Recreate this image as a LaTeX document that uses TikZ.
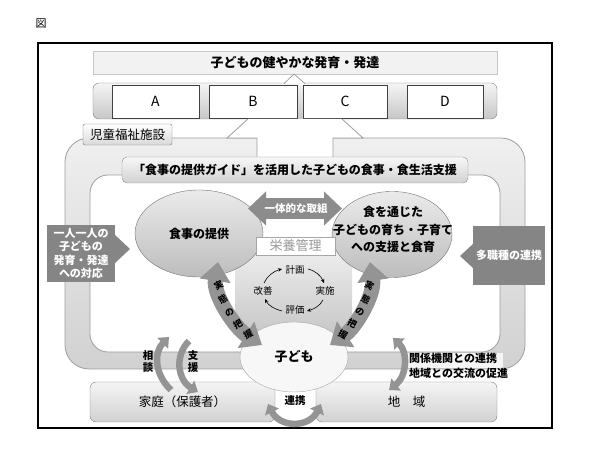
\documentclass[tikz,border=0pt]{standalone}
\usepackage{fontspec}
\setmainfont{Noto Sans CJK JP}
\usetikzlibrary{shapes.geometric,arrows.meta}
\begin{document}
\begin{tikzpicture}[x=1pt,y=-1pt,
  bandstyle/.style={draw=black!38, line width=0.8pt},
  letterbox/.style={draw=black!75, fill=white, line width=0.7pt, minimum height=33pt, inner sep=0pt, font=\fontsize{14}{16}\selectfont},
  darkbox/.style={fill=black!48, text=white, font=\bfseries\fontsize{11}{13.5}\selectfont, align=center, inner sep=0pt},
  softbox/.style={draw=black!50, top color=black!4, bottom color=black!18, rounded corners=6pt, inner sep=0pt, font=\fontsize{12.5}{15}\selectfont},
  cyc/.style={font=\fontsize{9.5}{11}\selectfont, inner sep=1pt},
  cycarrow/.style={line width=0.6pt, -{Stealth[length=4pt,width=3.5pt]}},
  bigarrow/.style={line width=15pt, draw=black!42, {Triangle[width=30pt,length=19pt]}-{Triangle[width=30pt,length=19pt]}},
  midarrow/.style={line width=6.5pt, draw=black!42},
  vtext/.style={font=\bfseries\fontsize{10.5}{12}\selectfont, align=center, inner sep=0pt},
  bendchar/.style={font=\bfseries\fontsize{9}{10}\selectfont, inner sep=0pt}
]
\useasboundingbox (0,0) rectangle (590,462);

\node[font=\fontsize{11}{13}\selectfont, inner sep=0] (fig) at (41,24) {図};
\draw[line width=1.3pt] (38,43) rectangle (552,428);

% top title and ABCD bar
\node[draw=black!22, fill=black!5, minimum width=404pt, minimum height=23pt, inner sep=0, font=\bfseries\fontsize{13}{15}\selectfont] (title) at (295,62.5) {子どもの健やかな発育・発達};
\node[draw=black!50, rounded corners=6pt, top color=black!4, bottom color=black!22, minimum width=404pt, minimum height=36pt, inner sep=0] (bar) at (295,101) {};
\node[letterbox, minimum width=87pt] (A) at (155.5,101.5) {A};
\node[letterbox, minimum width=88pt] (B) at (253,101.5) {B};
\node[letterbox, minimum width=84pt] (C) at (345,101.5) {C};
\node[letterbox, minimum width=76pt] (D) at (445,101.5) {D};
\path[fill=white] (284,83.6) -- (294,74) -- (305,83.6) -- cycle;
\draw[draw=black!45, line width=0.6pt] (284,83.6) -- (294,74) -- (305,83.6);

% band of the facility
\path[bandstyle, top color=black!6, bottom color=black!18, even odd rule]
  [rounded corners=24pt] (65,138) rectangle (525,369)
  [rounded corners=18pt] (90,175) rectangle (500,352);
\path[fill=white] (257,165) -- (257,138) -- (227,138) -- (248,119) -- (342,119) -- (363,138) -- (333,138) -- (333,165) -- cycle;
\draw[bandstyle] (257,165) -- (257,138) -- (227,138) -- (248,119);
\draw[bandstyle] (342,119) -- (363,138) -- (333,138) -- (333,165);
\node[draw=black!55, top color=white, bottom color=black!15, rounded corners=2pt, minimum width=89pt, minimum height=21pt, inner sep=0, font=\fontsize{12.5}{14}\selectfont] (facility) at (127.5,134.5) {児童福祉施設};

\node[draw=black!45, top color=black!3, bottom color=black!18, rounded corners=5pt, minimum width=346pt, minimum height=26pt, inner sep=0, font=\bfseries\fontsize{12}{14}\selectfont] (guide) at (295,170) {「食事の提供ガイド」を活用した子どもの食事・食生活支援};

% nutrition management area
\shade[top color=black!6, bottom color=black!22] (235,245) rectangle (352,335);

% ellipses
\node[ellipse, draw=black!55, top color=black!8, bottom color=black!26, minimum width=128pt, minimum height=87pt, inner sep=0, font=\bfseries\fontsize{12}{14}\selectfont] (meal) at (199,233.5) {食事の提供};
\node[ellipse, draw=black!55, top color=black!8, bottom color=black!26, minimum width=120pt, minimum height=86pt, inner sep=0] (growth) at (392,234.5) {};
\node[align=center, inner sep=0, font=\bfseries\fontsize{12}{17.5}\selectfont] (growthtext) at (393,229.5) {食を通じた\\子どもの育ち・子育て\\への支援と食育};

\node[draw=black!35, fill=white, minimum width=79pt, minimum height=18pt, inner sep=0, text=black!40, font=\fontsize{13}{15}\selectfont] (nutr) at (295.5,246) {栄養管理};
\node[cyc] (plan) at (295,270) {計画};
\node[cyc] (do) at (325,291) {実施};
\node[cyc] (check) at (295,310) {評価};
\node[cyc] (act) at (263,291) {改善};
\draw[cycarrow] (264,283) .. controls (267,276) and (274,271) .. (282,269);
\draw[cycarrow] (308,269) .. controls (316,271) and (321,276) .. (324,283);
\draw[cycarrow] (323,300) .. controls (320,306) and (314,309) .. (307,311);
\draw[cycarrow] (282,311) .. controls (274,309) and (268,305) .. (265,299);

% joint arrow
\coordinate (jl) at (248,208.5);
\coordinate (jr) at (342,208.5);
\draw[black!45, line width=21pt, {Triangle[width=33pt,length=18pt]}-{Triangle[width=33pt,length=18pt]}] (jl) -- (jr);
\node[text=white, inner sep=0, font=\bfseries\fontsize{10.5}{12}\selectfont] (joint) at (296,208.5) {一体的な取組};

% side boxes
\node[darkbox, minimum width=68pt, minimum height=57pt] (indiv) at (81,253.5) {一人一人の\\子どもの\\発育・発達\\への対応};
\fill[black!48] (115,235) -- (130,249) -- (115,263) -- cycle;
\node[darkbox, minimum width=72pt, minimum height=59pt] (multi) at (509,255.5) {多職種の連携};
\fill[black!48] (473,244) -- (460,256) -- (473,268) -- cycle;

% home and community
\node[softbox, minimum width=185pt, minimum height=40pt] (home) at (182.5,402) {家庭（保護者）};
\node[softbox, minimum width=181pt, minimum height=40pt] (area) at (406.5,402) {地　域};
\fill[black!4] (405,352.8) rectangle (503,368.2);
\node[anchor=west, align=left, inner sep=0, font=\bfseries\fontsize{11}{15}\selectfont] (liaison) at (409,365.5) {関係機関との連携\\地域との交流の促進};

% child
\node[ellipse, draw=black!35, fill=black!3, minimum width=108pt, minimum height=70pt, inner sep=0, font=\bfseries\fontsize{13}{15}\selectfont] (child) at (294,357) {子ども};

% grasping arrows, text set character by character along them
\coordinate (l1) at (218,262);
\coordinate (l2) at (262,345);
\draw[bigarrow] (l1) .. controls (213,295) and (235,328) .. (l2);
\path (l1) .. controls (213,295) and (235,328) .. (l2)
  node[bendchar, rotate=29, pos=0.24] (gl1) {実}
  node[bendchar, rotate=29, pos=0.385] (gl2) {態}
  node[bendchar, rotate=29, pos=0.53] (gl3) {の}
  node[bendchar, rotate=29, pos=0.675] (gl4) {把}
  node[bendchar, rotate=29, pos=0.82] (gl5) {握};
\coordinate (r1) at (370,262);
\coordinate (r2) at (330,345);
\draw[bigarrow] (r1) .. controls (375,295) and (355,328) .. (r2);
\path (r1) .. controls (375,295) and (355,328) .. (r2)
  node[bendchar, rotate=-28, pos=0.24] (gr1) {実}
  node[bendchar, rotate=-28, pos=0.385] (gr2) {態}
  node[bendchar, rotate=-28, pos=0.53] (gr3) {の}
  node[bendchar, rotate=-28, pos=0.675] (gr4) {把}
  node[bendchar, rotate=-28, pos=0.82] (gr5) {握};

% consultation and support
\coordinate (c1) at (171,390);
\coordinate (c2) at (169,337);
\draw[midarrow, -{Triangle[width=15pt,length=9pt]}] (c1) .. controls (154,374) and (154,352) .. (c2);
\coordinate (s1) at (189,341);
\coordinate (s2) at (198,392);
\draw[midarrow, -{Triangle[width=15pt,length=9pt]}] (s1) .. controls (174,356) and (178,380) .. (s2);
\node[vtext] (soudan) at (148,362) {相\\談};
\node[vtext] (shien) at (193,362) {支\\援};

% community arrow
\coordinate (q1) at (393,338);
\coordinate (q2) at (389,390);
\draw[midarrow, {Triangle[width=15pt,length=9pt]}-{Triangle[width=15pt,length=9pt]}] (q1) .. controls (408,352) and (407,376) .. (q2);

% cooperation arrow
\coordinate (k1) at (268,404);
\coordinate (k2) at (321,404);
\draw[midarrow, {Triangle[width=15pt,length=9pt]}-{Triangle[width=15pt,length=9pt]}] (k1) .. controls (280,428) and (309,428) .. (k2);
\node[vtext] (renkei) at (295,401) {連携};
\end{tikzpicture}
\end{document}
